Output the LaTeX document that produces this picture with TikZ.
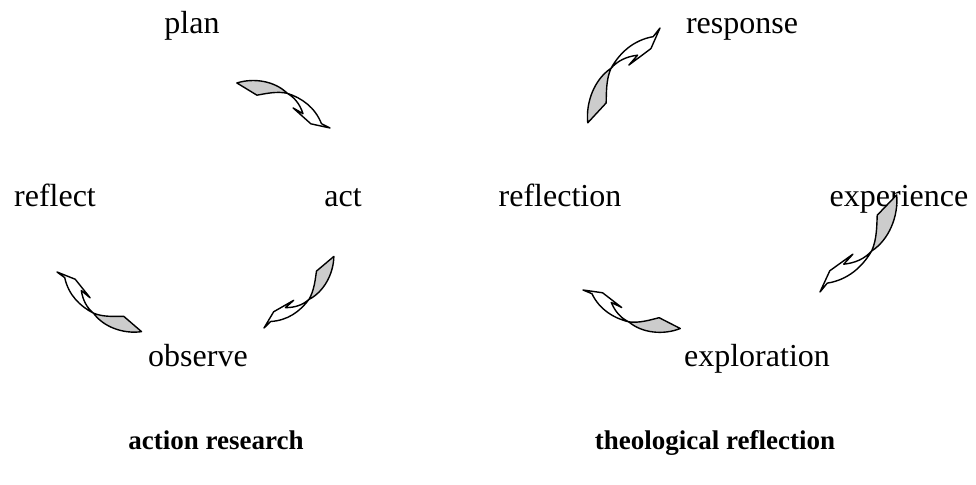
\documentclass[tikz,border=0pt]{standalone}
\usepackage{fontspec}
\setmainfont{Liberation Serif}
\begin{document}
\begin{tikzpicture}[x=1pt,y=1pt,
  lbl/.style={inner sep=0pt,anchor=base,font=\fontsize{32}{36}\selectfont},
  ttl/.style={inner sep=0pt,anchor=base,font=\fontsize{27}{30}\selectfont\bfseries},
  edge/.style={line width=1.4pt,line join=round},
  twarrow/.pic={
    \begin{scope}[yscale=0.85,rotate=39.7]
    \filldraw[edge,fill=black!20]
      (-88,74) .. controls (-66,77) and (-44,68) .. (-35,51)
      .. controls (-46,56) and (-60,55) .. (-70,55) -- cycle;
    \filldraw[edge,fill=white]
      (-35,51) .. controls (-20,42) and (-9,28) .. (-8,7) -- (0,0) -- (-20,9)
      -- (-34,32) -- (-25,23) .. controls (-25,35) and (-28,44) .. cycle;
    \end{scope}
  }]
\useasboundingbox (0,0) rectangle (976,484);
% action research
\node[lbl] (plan) at (192,450) {plan};
\node[lbl] (act) at (343,277) {act};
\node[lbl] (reflect) at (55,277) {reflect};
\node[lbl] (observe) at (198,117) {observe};
\node[ttl] (ar) at (216,34) {action research};
\pic[rotate=-25.5,scale=0.9] at (330,356) {twarrow};
\pic[rotate=-134,scale=0.87] at (264,156) {twarrow};
\pic[rotate=145.1,scale=0.9] at (57,212) {twarrow};
% theological reflection
\node[lbl] (response) at (742,450) {response};
\node[lbl] (reflection) at (560,277) {reflection};
\node[lbl] (experience) at (899,277) {experience};
\node[lbl] (exploration) at (757,117) {exploration};
\node[ttl] (tr) at (715,34) {theological reflection};
\pic[rotate=53.0,scale=1.037] at (660,456) {twarrow};
\pic[rotate=-128.0,scale=1.076] at (820,192) {twarrow};
\pic[rotate=158.7,scale=0.91] at (583,194) {twarrow};
\end{tikzpicture}
\end{document}
